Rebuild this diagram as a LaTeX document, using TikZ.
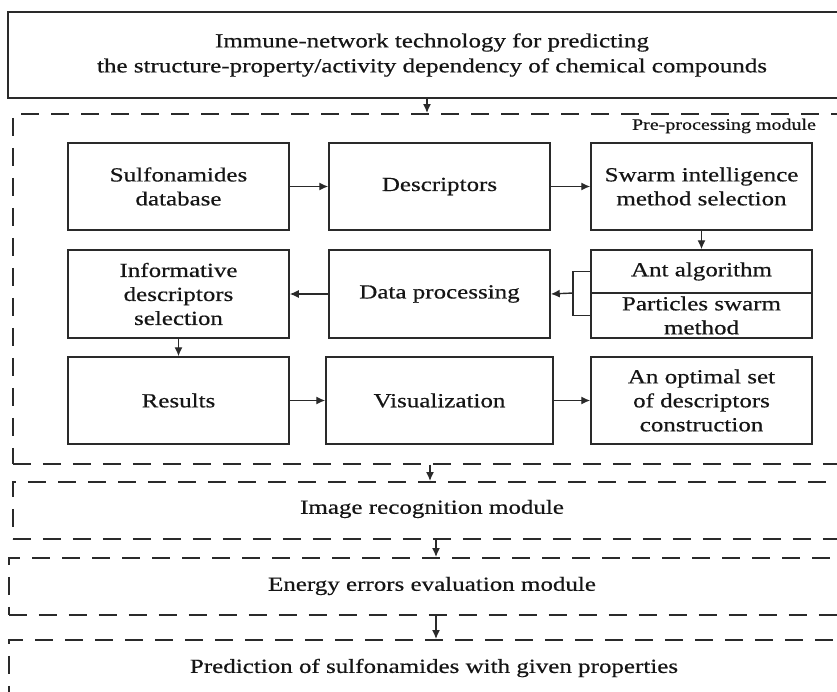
\documentclass[tikz,border=0pt]{standalone}
\usepackage{fontspec}
\setmainfont{Liberation Serif}[FakeStretch=1.25, FakeBold=0.5]
\usetikzlibrary{arrows.meta}
\definecolor{linec}{HTML}{2A2A2A}
\definecolor{textc}{HTML}{151515}
\begin{document}
\begin{tikzpicture}[x=1pt,y=-1pt,
  box/.style={draw=linec, line width=1.5pt, minimum width=221pt, minimum height=87pt,
    inner sep=0pt, align=center, text=textc, font=\fontsize{20}{24}\selectfont},
  half/.style={draw=linec, line width=1.5pt, minimum width=221pt, inner sep=0pt,
    align=center, text=textc, font=\fontsize{20}{24}\selectfont},
  outer/.style={draw=linec, line width=1.5pt, anchor=north west, inner sep=0pt},
  dbox/.style={outer, line width=1.5pt, dash pattern=on 18pt off 12pt},
  lbl/.style={text=textc, align=center, inner sep=0pt, font=\fontsize{20}{25}\selectfont},
  arr/.style={draw=linec, line width=1.4pt, -{Latex[length=9pt,width=8pt]}},
  ln/.style={draw=linec, line width=1.4pt}]
\useasboundingbox (0,0) rectangle (837,691);
\clip (0,0) rectangle (837,691);
\fill[white] (0,0) rectangle (837,691);
% outer boxes
\node[outer, minimum width=848pt, minimum height=86pt] (top) at (7,11) {};
\node[lbl] (toptext) at (432,55) {Immune-network technology for predicting\\the structure-property/activity dependency of chemical compounds};
\node[dbox, minimum width=843pt, minimum height=350pt] (pre) at (12,113) {};
\node[text=textc, inner sep=0pt, font=\fontsize{16}{18}\selectfont] (prelbl) at (724,126) {Pre-processing module};
\node[dbox, minimum width=843pt, minimum height=57pt] (img) at (12,481) {};
\node[lbl] (imgtext) at (432,509) {Image recognition module};
\node[dbox, minimum width=847pt, minimum height=57pt] (en) at (8,557) {};
\node[lbl] (entext) at (432,586) {Energy errors evaluation module};
\node[dbox, minimum width=847pt, minimum height=90pt] (pred) at (8,639) {};
\node[lbl] (predtext) at (434,668) {Prediction of sulfonamides with given properties};
% inner boxes
\node[box] (sulf) at (178.5,186.5) {Sulfonamides\\database};
\node[box] (desc) at (439.5,186.5) {Descriptors};
\node[box] (swarm) at (701.5,186.5) {Swarm intelligence\\method selection};
\node[box, minimum height=88pt] (inf) at (178.5,294) {Informative\\descriptors\\selection};
\node[box, minimum height=88pt] (data) at (439.5,294) {Data processing};
\node[half, minimum height=43pt] (ant) at (701.5,271.5) {Ant algorithm};
\node[half, minimum height=45pt] (pso) at (701.5,315.5) {Particles swarm\\method};
\node[box] (res) at (178.5,400.5) {Results};
\node[box, minimum width=227pt] (vis) at (439.5,400.5) {Visualization};
\node[box] (opt) at (701.5,400.5) {An optimal set\\of descriptors\\construction};
% connectors
\coordinate (c1) at (427,0);
\coordinate (c2) at (430,0);
\coordinate (c3) at (436,0);
\coordinate (br) at (573,293);
\draw[arr] (top.south -| c1) -- (pre.north -| c1);
\draw[arr] (pre.south -| c2) -- (img.north -| c2);
\draw[arr] (img.south -| c3) -- (en.north -| c3);
\draw[arr] (en.south -| c3) -- (pred.north -| c3);
\draw[arr] (sulf) -- (desc);
\draw[arr] (desc) -- (swarm);
\draw[arr] (swarm) -- (ant);
\draw[ln] (ant.west) -| (br) |- (pso.west);
\draw[arr] (br) -- (data.east);
\draw[arr] (data) -- (inf);
\draw[arr] (inf) -- (res);
\draw[arr] (res) -- (vis);
\draw[arr] (vis) -- (opt);
\end{tikzpicture}
\end{document}
